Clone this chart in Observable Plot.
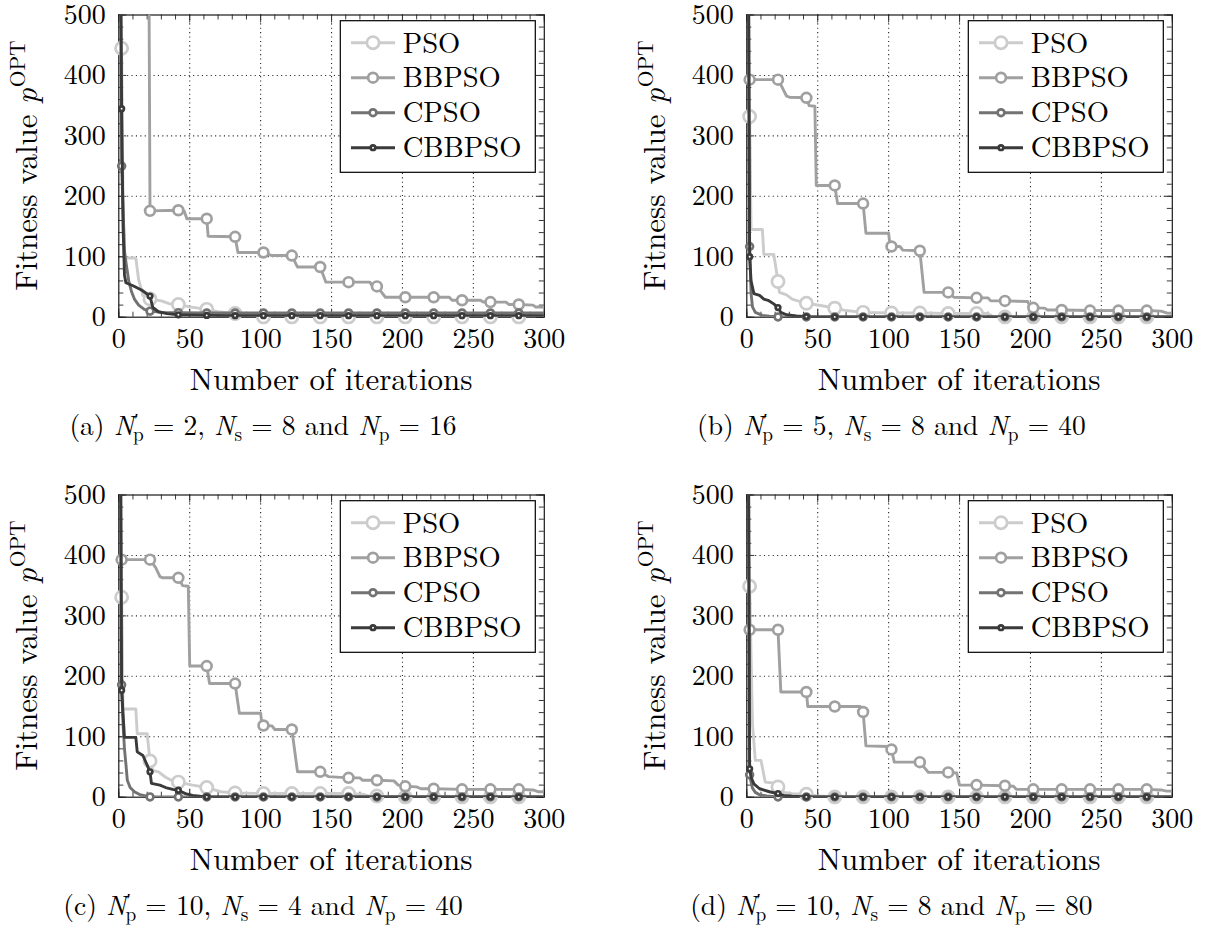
<!DOCTYPE html>
<html><head><meta charset="utf-8">
<script src="https://cdn.jsdelivr.net/npm/d3@7"></script>
<script src="https://cdn.jsdelivr.net/npm/@observablehq/plot@0.6"></script>
<style>
html,body{margin:0;padding:0;background:#fff;overflow:hidden}
#wrap{position:relative;width:1219px;height:929px;background:#fff;color:#000;overflow:hidden;font-family:"Latin Modern Roman","Liberation Serif",serif}
.panel{position:absolute}
.cap{position:absolute;width:560px;text-align:center;font-family:"Latin Modern Roman","Liberation Serif",serif;font-size:27.5px;line-height:34px;white-space:nowrap}
.sb{position:relative;top:0.3em;font-size:0.7em}
.pr{position:relative;top:-0.42em;font-size:0.72em}
.bl{display:inline-block;width:0;height:0;vertical-align:baseline}
</style></head><body><div id="wrap"></div>
<script>
// ---------- data ----------
const seriesNames = ["PSO", "BBPSO", "CPSO", "CBBPSO"];
const seriesColors = ["#cccccc", "#a0a0a0", "#727272", "#3a3a3a"];
const markerRadius = [6.1, 4.9, 3.4, 2.3];
const xTicks = [0, 50, 100, 150, 200, 250, 300];
const yTicks = [0, 100, 200, 300, 400, 500];
const xGrid = [50, 100, 150, 200, 250];
const yGrid = [100, 200, 300, 400];
const panelLetters = ["a", "b", "c", "d"];
const npPrimeVals = [2, 5, 10, 10];
const nsVals = [8, 8, 4, 8];
const npVals = [16, 40, 40, 80];
const xLabel = "Number of iterations";

// (a)
const a_PSO = [[2,445],[3,190],[4,98],[12,98],[14,62],[17,36],[22,30],[30,27],[36,22],[42,21],[50,17],[62,13],[70,9],[82,6],[90,3],[102,0.5],[122,0.5],[142,0.5],[162,0.5],[182,0.5],[202,0.5],[222,0.5],[242,0.5],[262,0.5],[282,0.5],[300,0.5]];
const a_BBPSO = [[2,700],[21,700],[22,176],[42,177],[46,176],[48,163],[62,163],[63,134],[82,133],[84,107],[102,107],[108,102],[122,102],[126,83],[142,83],[146,58],[162,58],[177,58],[179,51],[182,51],[188,33],[202,33],[222,33],[233,33],[235,28],[242,28],[255,28],[257,25],[262,25],[273,25],[275,21],[282,21],[292,20],[294,17],[300,17]];
const a_CPSO = [[1,700],[2,250],[4,110],[5,92],[7,60],[9,42],[11,30],[14,20],[18,13],[22,10],[30,8],[42,7.5],[62,7],[82,7],[102,7],[122,7],[142,7],[162,7],[182,7],[202,7],[222,7],[242,7],[262,7],[282,7],[300,7]];
const a_CBBPSO = [[1,700],[2,345],[3,150],[4,70],[5,57],[10,52],[16,45],[22,35],[24,16],[28,9],[34,6],[42,4],[62,3],[82,2.5],[102,2.5],[122,2.5],[142,2.5],[162,2.5],[182,2.5],[202,2.5],[222,2.5],[242,2.5],[262,2.5],[282,2.5],[300,2.5]];
// (b)
const b_PSO = [[2,332],[3,145],[11,145],[12,104],[19,104],[22,59],[23,41],[28,37],[32,30],[36,27],[42,23],[53,19],[62,15],[70,11],[82,8],[102,7],[122,7],[142,6],[162,6],[170,6],[174,0.5],[182,0.5],[202,0.5],[222,0.5],[242,0.5],[262,0.5],[282,0.5],[300,0.5]];
const b_BBPSO = [[2,393],[22,393],[25,380],[28,366],[30,364],[42,363],[44,350],[48,349],[49,218],[62,218],[64,188],[82,188],[84,139],[100,139],[101,118],[102,117],[108,117],[110,111],[122,110],[125,41],[142,41],[146,33],[162,32],[170,32],[172,27],[182,27],[198,26],[200,16],[202,15.5],[210,15],[212,12],[222,12],[242,11],[262,11],[282,11],[292,10],[296,7],[300,6.6]];
const b_CPSO = [[1,700],[2,117],[3,40],[4,17],[6,8],[11,3],[16,1.5],[22,0.5],[42,0.5],[62,0.5],[82,0.5],[102,0.5],[122,0.5],[142,0.5],[162,0.5],[182,0.5],[202,0.5],[222,0.5],[242,0.5],[262,0.5],[282,0.5],[300,0.5]];
const b_CBBPSO = [[1,700],[2,100],[3,60],[5,39],[9,36],[12,30],[15,28],[19,22],[22,16],[24,8],[28,4],[35,2],[42,1],[62,0.5],[82,0.5],[102,0.5],[122,0.5],[142,0.5],[162,0.5],[182,0.5],[202,0.5],[222,0.5],[242,0.5],[262,0.5],[282,0.5],[300,0.5]];
// (c)
const c_PSO = [[2,331],[3,146],[12,146],[13,105],[20,105],[22,60],[24,44],[28,42],[33,33],[37,28],[42,25],[52,20],[62,16],[72,9],[82,7],[102,6],[122,6],[142,6],[162,6],[172,5],[176,2],[182,2],[195,1],[202,0.5],[222,0.5],[242,0.5],[262,0.5],[282,0.5],[300,0.5]];
const c_BBPSO = [[2,393],[22,393],[26,380],[29,365],[31,363],[42,363],[45,350],[49,349],[50,217],[62,217],[64,188],[82,188],[85,139],[100,139],[101,119],[102,118.6],[108,118],[110,112],[122,112],[126,42],[142,42],[148,34],[162,32],[170,32],[172,28],[182,28],[194,27],[197,20],[202,18],[210,17],[213,14],[222,14],[242,13],[262,13],[282,13],[292,12],[296,9],[300,9]];
const c_CPSO = [[1,700],[2,186],[3,120],[4,80],[5,55],[6,28],[8,16],[11,9],[15,4],[22,0.5],[42,0.5],[62,0.5],[82,0.5],[102,0.5],[122,0.5],[142,0.5],[162,0.5],[182,0.5],[202,0.5],[222,0.5],[242,0.5],[262,0.5],[282,0.5],[300,0.5]];
const c_CBBPSO = [[1,700],[2,177],[4,99],[12,99],[13,75],[17,69],[20,53],[22,42],[23,23],[29,20],[33,16],[38,13],[42,11.5],[47,6],[52,3],[62,0.5],[82,0.5],[102,0.5],[122,0.5],[142,0.5],[162,0.5],[182,0.5],[202,0.5],[222,0.5],[242,0.5],[262,0.5],[282,0.5],[300,0.5]];
// (d)
const d_PSO = [[2,349],[4,121],[6,61],[10,61],[13,25],[20,23],[22,17],[26,8],[32,6],[42,5],[50,2],[62,0.5],[82,0.5],[102,0.5],[122,0.5],[142,0.5],[162,0.5],[182,0.5],[202,0.5],[222,0.5],[242,0.5],[262,0.5],[282,0.5],[300,0.5]];
const d_BBPSO = [[2,277],[22,277],[24,174],[42,174],[43,150],[62,150],[80,150],[82,141],[84,85],[100,84],[102,79],[104,58],[122,58],[128,41],[142,41],[148,40],[150,20],[162,20],[182,19],[188,18],[190,13],[202,13],[222,13],[242,13],[262,13],[282,13],[292,12],[296,10],[300,10]];
const d_CPSO = [[1,700],[2,37],[3,25],[4,15],[6,8],[9,4],[14,2],[22,0.5],[42,0.5],[62,0.5],[82,0.5],[102,0.5],[122,0.5],[142,0.5],[162,0.5],[182,0.5],[202,0.5],[222,0.5],[242,0.5],[262,0.5],[282,0.5],[300,0.5]];
const d_CBBPSO = [[1,700],[2,47],[3,33],[5,22],[9,14],[16,9],[22,6],[26,3],[32,1.5],[42,0.5],[62,0.5],[82,0.5],[102,0.5],[122,0.5],[142,0.5],[162,0.5],[182,0.5],[202,0.5],[222,0.5],[242,0.5],[262,0.5],[282,0.5],[300,0.5]];

const panelData = [
  [a_PSO, a_BBPSO, a_CPSO, a_CBBPSO],
  [b_PSO, b_BBPSO, b_CPSO, b_CBBPSO],
  [c_PSO, c_BBPSO, c_CPSO, c_CBBPSO],
  [d_PSO, d_BBPSO, d_CPSO, d_CBBPSO]
];

// ---------- layout ----------
const FONT_CSS = '"Latin Modern Roman", "Liberation Serif", serif';
const wrap = document.getElementById("wrap");
const ML = 118.3, MT = 14.5, FW = 425.5, FH = 302.2, SVGH = 400;
const panelPos = [[0, 0, 600], [628.4, 0, 590], [0, 480, 600], [628.4, 480, 590]];
const xMinor = d3.range(0, 301, 10);
const yMinor = d3.range(0, 501, 20);
const tickColor = "#3a3a3a";

function isMarker(x, y) { return (x - 2) % 20 === 0 && x <= 282 && y <= 500; }

panelData.forEach((series, p) => {
  const [left, top, width] = panelPos[p];
  const MR = width - ML - FW, MB = SVGH - MT - FH;
  const marks = [
    Plot.ruleX(xGrid, {x: d => d, stroke: "#000", strokeWidth: 1.1, strokeDasharray: "1.1,3.3", strokeOpacity: 0.85}),
    Plot.ruleY(yGrid, {y: d => d, stroke: "#000", strokeWidth: 1.1, strokeDasharray: "1.1,3.3", strokeOpacity: 0.85}),
    Plot.tickX(xMinor, {x: d => d, insetTop: FH - 5, stroke: tickColor, strokeWidth: 1}),
    Plot.tickX(xMinor, {x: d => d, insetBottom: FH - 5, stroke: tickColor, strokeWidth: 1}),
    Plot.tickX(xTicks, {x: d => d, insetTop: FH - 8, stroke: tickColor, strokeWidth: 1}),
    Plot.tickX(xTicks, {x: d => d, insetBottom: FH - 8, stroke: tickColor, strokeWidth: 1}),
    Plot.tickY(yMinor, {y: d => d, insetRight: FW - 5, stroke: tickColor, strokeWidth: 1}),
    Plot.tickY(yMinor, {y: d => d, insetLeft: FW - 5, stroke: tickColor, strokeWidth: 1}),
    Plot.tickY(yTicks, {y: d => d, insetRight: FW - 8, stroke: tickColor, strokeWidth: 1}),
    Plot.tickY(yTicks, {y: d => d, insetLeft: FW - 8, stroke: tickColor, strokeWidth: 1}),
    Plot.frame({stroke: "#1a1a1a", strokeWidth: 1.2})
  ];
  series.forEach((pts, i) => {
    const rows = pts.map(([x, y]) => ({x, y}));
    marks.push(Plot.line(rows, {x: "x", y: "y", stroke: seriesColors[i], strokeWidth: 2.9, strokeLinejoin: "round", clip: true}));
    marks.push(Plot.dot(rows.filter(d => isMarker(d.x, d.y)), {x: "x", y: "y", r: markerRadius[i], stroke: seriesColors[i], strokeWidth: 2.7, fill: "white"}));
  });
  const plot = Plot.plot({
    width, height: SVGH,
    marginLeft: ML, marginRight: MR, marginTop: MT, marginBottom: MB,
    x: {domain: [0, 300], ticks: xTicks, tickSize: 0, tickPadding: 11, label: null},
    y: {domain: [0, 500], ticks: yTicks, tickSize: 0, tickPadding: 13, label: null},
    style: {fontFamily: FONT_CSS, fontSize: "28px", color: "#000", background: "transparent", overflow: "visible"},
    marks
  });
  const holder = document.createElement("div");
  holder.className = "panel";
  holder.style.left = left + "px";
  holder.style.top = top + "px";
  holder.appendChild(plot);
  wrap.appendChild(holder);

  const svg = d3.select(plot);
  // x label
  svg.append("text")
    .attr("x", ML + FW / 2).attr("y", MT + FH + 73.5)
    .attr("text-anchor", "middle").attr("fill", "#000")
    .style("font-size", "31px")
    .text(xLabel);
  // y label with superscript
  const yl = svg.append("text")
    .attr("transform", `translate(${ML - 81.5},${MT + FH / 2}) rotate(-90)`)
    .attr("text-anchor", "middle").attr("fill", "#000")
    .style("font-size", "31px").style("white-space", "pre");
  yl.append("tspan").text("Fitness value ");
  yl.append("tspan").style("font-style", "italic").text("p");
  yl.append("tspan").attr("dy", -12).attr("dx", 1).style("font-size", "21.5px").text("OPT");
  // legend
  const LW = 195, LH = 151.6;
  const g = svg.append("g").attr("transform", `translate(${ML + FW - 8.5 - LW},${MT + 6.2})`);
  g.append("rect").attr("width", LW).attr("height", LH).attr("fill", "white").attr("stroke", "#000").attr("stroke-width", 1.2);
  seriesNames.forEach((name, i) => {
    const cy = 22 + i * 35;
    g.append("line").attr("x1", 10.7).attr("x2", 54.7).attr("y1", cy).attr("y2", cy)
      .attr("stroke", seriesColors[i]).attr("stroke-width", 2.9);
    g.append("circle").attr("cx", 32.7).attr("cy", cy).attr("r", markerRadius[i])
      .attr("fill", "white").attr("stroke", seriesColors[i]).attr("stroke-width", 2.7);
    g.append("text").attr("x", 62.4).attr("y", cy + 9.8).attr("fill", "#000")
      .attr("text-anchor", "start")
      .style("font-size", "28.6px").text(name);
  });
  svg.selectAll("text").style("font-family", FONT_CSS);

  // caption below the plot (HTML)
  const cap = document.createElement("div");
  cap.className = "cap";
  const cx = left + 263;
  const baseline = top + 435;
  cap.style.left = (cx - 280) + "px";
  cap.style.top = (baseline - 26) + "px";
  cap.innerHTML = `<span class="bl"></span>(${panelLetters[p]}) <i>N</i><span class="pr">′</span><span class="sb" style="margin-left:-0.28em">p</span> = ${npPrimeVals[p]}, <i>N</i><span class="sb">s</span> = ${nsVals[p]} and <i>N</i><span class="sb">p</span> = ${npVals[p]}`;
  wrap.appendChild(cap);
  const bl = cap.querySelector(".bl").getBoundingClientRect().top;
  const wrapTop = wrap.getBoundingClientRect().top;
  cap.style.top = (parseFloat(cap.style.top) + (baseline - (bl - wrapTop))) + "px";
});
</script></body></html>
